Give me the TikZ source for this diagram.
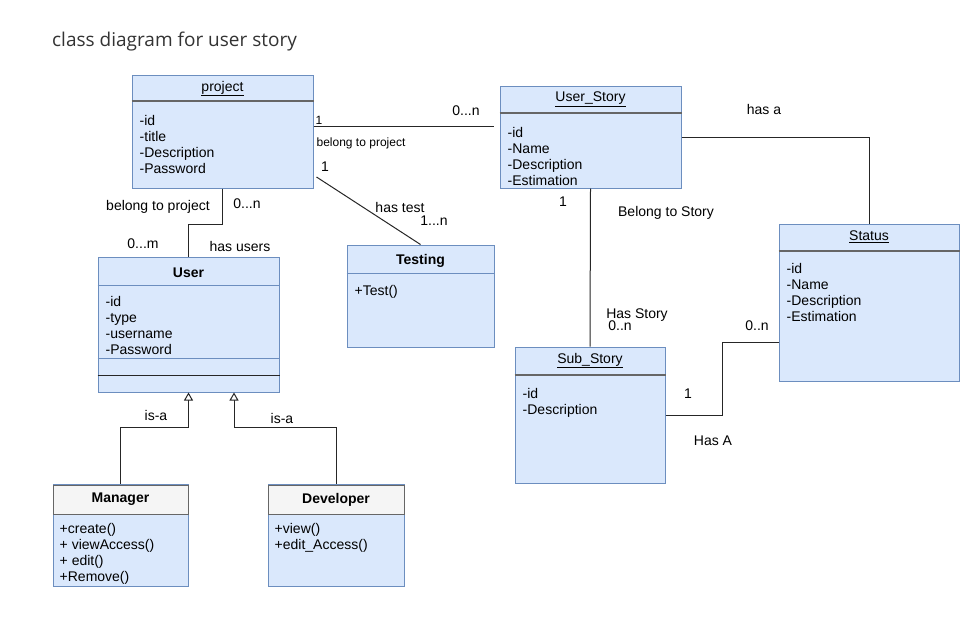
\documentclass[tikz,border=0pt]{standalone}
\usepackage{fontspec}
\setmainfont{Liberation Sans}
\newfontfamily\titlefont{Open Sans}
\usetikzlibrary{arrows.meta,positioning}
\definecolor{boxfill}{HTML}{DAE8FC}
\definecolor{boxline}{HTML}{6C8EBF}
\definecolor{hdrfill}{HTML}{F5F5F5}
\definecolor{hdrline}{HTML}{666666}

\begin{document}
\begin{tikzpicture}[x=1pt, y=-1pt, every node/.style={font=\fontsize{14}{16}\selectfont},
  cls/.style={rectangle,draw=boxline,fill=boxfill,line width=1pt,inner sep=0pt},
  hdrbox/.style={rectangle,draw=hdrline,fill=hdrfill,line width=1pt,inner sep=0pt,font=\bfseries\fontsize{14}{16}\selectfont},
  attr/.style={anchor=north west,inner sep=0pt,align=left},
  sep/.style={draw=hdrline,line width=2pt},
  thin/.style={draw=boxline,line width=1pt},
  line/.style={draw=black!85,line width=1pt},
  isa/.style={line,-{Triangle[fill=white,length=8pt,width=9pt]}},
  lbl/.style={inner sep=1pt},
  small/.style={inner sep=1pt,font=\fontsize{12}{14}\selectfont}]
\useasboundingbox (0,0) rectangle (976,623);
\node[anchor=west,inner sep=0pt,text=black!80,font=\titlefont\fontsize{19}{22}\selectfont] (title) at (52,42) {class diagram for user story};

% project
\node[cls,minimum width=181pt,minimum height=112pt] (project) at (222.5,132) {};
\node (projecthdr) at ([shift={(0,13)}]project.north) {\underline{project}};
\draw[sep] ([shift={(0,26)}]project.north west) -- ([shift={(0,26)}]project.north east);
\node[attr] (projectattr) at ([shift={(8,40)}]project.north west) {-id\\-title\\-Description\\-Password};

% user story
\node[cls,minimum width=181pt,minimum height=101pt] (ustory) at (590.5,137.5) {};
\node (ustoryhdr) at ([shift={(0,13)}]ustory.north) {\underline{User\_Story}};
\draw[sep] ([shift={(0,27)}]ustory.north west) -- ([shift={(0,27)}]ustory.north east);
\node[attr] (ustoryattr) at ([shift={(8,41)}]ustory.north west) {-id\\-Name\\-Description\\-Estimation};

% status
\node[cls,minimum width=180pt,minimum height=157pt] (status) at (869,302.5) {};
\node (statushdr) at ([shift={(0,13)}]status.north) {\underline{Status}};
\draw[sep] ([shift={(0,27)}]status.north west) -- ([shift={(0,27)}]status.north east);
\node[attr] (statusattr) at ([shift={(8,40)}]status.north west) {-id\\-Name\\-Description\\-Estimation};

% sub story
\node[cls,minimum width=150pt,minimum height=136pt] (substory) at (590,415) {};
\node (substoryhdr) at ([shift={(0,14)}]substory.north) {\underline{Sub\_Story}};
\draw[sep] ([shift={(0,28)}]substory.north west) -- ([shift={(0,28)}]substory.north east);
\node[attr] (substoryattr) at ([shift={(8,42)}]substory.north west) {-id\\-Description};

% user
\node[cls,minimum width=181pt,minimum height=135pt] (user) at (188.5,324.5) {};
\node[font=\bfseries\fontsize{14}{16}\selectfont] (userhdr) at ([shift={(0,16)}]user.north) {User};
\draw[thin] ([shift={(0,29)}]user.north west) -- ([shift={(0,29)}]user.north east);
\node[attr] (userattr) at ([shift={(8,40)}]user.north west) {-id\\-type\\-username\\-Password};
\draw[thin] ([shift={(0,102)}]user.north west) -- ([shift={(0,102)}]user.north east);
\draw[line] ([shift={(0,119)}]user.north west) -- ([shift={(0,119)}]user.north east);

% testing
\node[cls,minimum width=147pt,minimum height=102pt] (testing) at (420.5,296) {};
\node[font=\bfseries\fontsize{14}{16}\selectfont] (testinghdr) at ([shift={(0,16)}]testing.north) {Testing};
\draw[thin] ([shift={(0,29)}]testing.north west) -- ([shift={(0,29)}]testing.north east);
\node[attr] (testingattr) at ([shift={(8,41)}]testing.north west) {+Test()};

% manager, developer
\node[cls,minimum width=135pt,minimum height=102pt] (manager) at (120.5,535) {};
\node[hdrbox,anchor=north,minimum width=135pt,minimum height=29pt] (managerhdr) at ([shift={(0,1)}]manager.north) {Manager};
\node[attr] (managerops) at ([shift={(7,40)}]manager.north west) {+create()\\+ viewAccess()\\+ edit()\\+Remove()};
\node[cls,minimum width=136pt,minimum height=102pt] (developer) at (336,535) {};
\node[hdrbox,anchor=north,minimum width=136pt,minimum height=29pt] (developerhdr) at ([shift={(0,1)}]developer.north) {Developer};
\node[attr] (developerops) at ([shift={(7,40)}]developer.north west) {+view()\\+edit\_Access()};

% connectors
\coordinate (pu) at ([shift={(0,-6)}]project.east);
\draw[line,shorten >=6pt] (pu) -- (pu -| ustory.west);
\draw[line] ([shift={(3,45)}]project.east) -- (testing.north);
\draw[line] (project.south) -- ++(0,36) -| (user.north);
\draw[line] (ustory.east) -| (status.north);
\draw[line] (ustory.south) -- (substory.north);
\draw[line] (substory.east) -- ++(57,0) |- ([shift={(0,39.5)}]status.west);
\draw[isa] (manager.north) -- ++(0,-56) -| (user.south);
\draw[isa] (developer.north) -- ++(0,-56) -| ([shift={(45.5,0)}]user.south);

% labels
\node[small] (l1) at (319,120) {1};
\node[lbl] (l2) at (466,111) {0...n};
\node[small] (l3) at (361,143) {belong to project};
\node[lbl] (l4) at (325,167) {1};
\node[lbl] (l5) at (400,207) {has test};
\node[lbl] (l6) at (434,221) {1...n};
\node[lbl] (l7) at (158,207) {belong to project};
\node[lbl] (l8) at (247,204) {0...n};
\node[lbl] (l9) at (143,244) {0...m};
\node[lbl] (l10) at (240,246) {has users};
\node[lbl] (l11) at (764,109) {has a};
\node[lbl] (l12) at (563,202) {1};
\node[lbl] (l13) at (666,213) {Belong to Story};
\node[lbl] (l14) at (637,315) {Has Story};
\node[lbl] (l15) at (620,326) {0..n};
\node[lbl] (l16) at (757,326) {0..n};
\node[lbl] (l17) at (688,394) {1};
\node[lbl] (l18) at (713,441) {Has A};
\node[lbl] (l19) at (156,415) {is-a};
\node[lbl] (l20) at (282,418) {is-a};
\end{tikzpicture}
\end{document}
